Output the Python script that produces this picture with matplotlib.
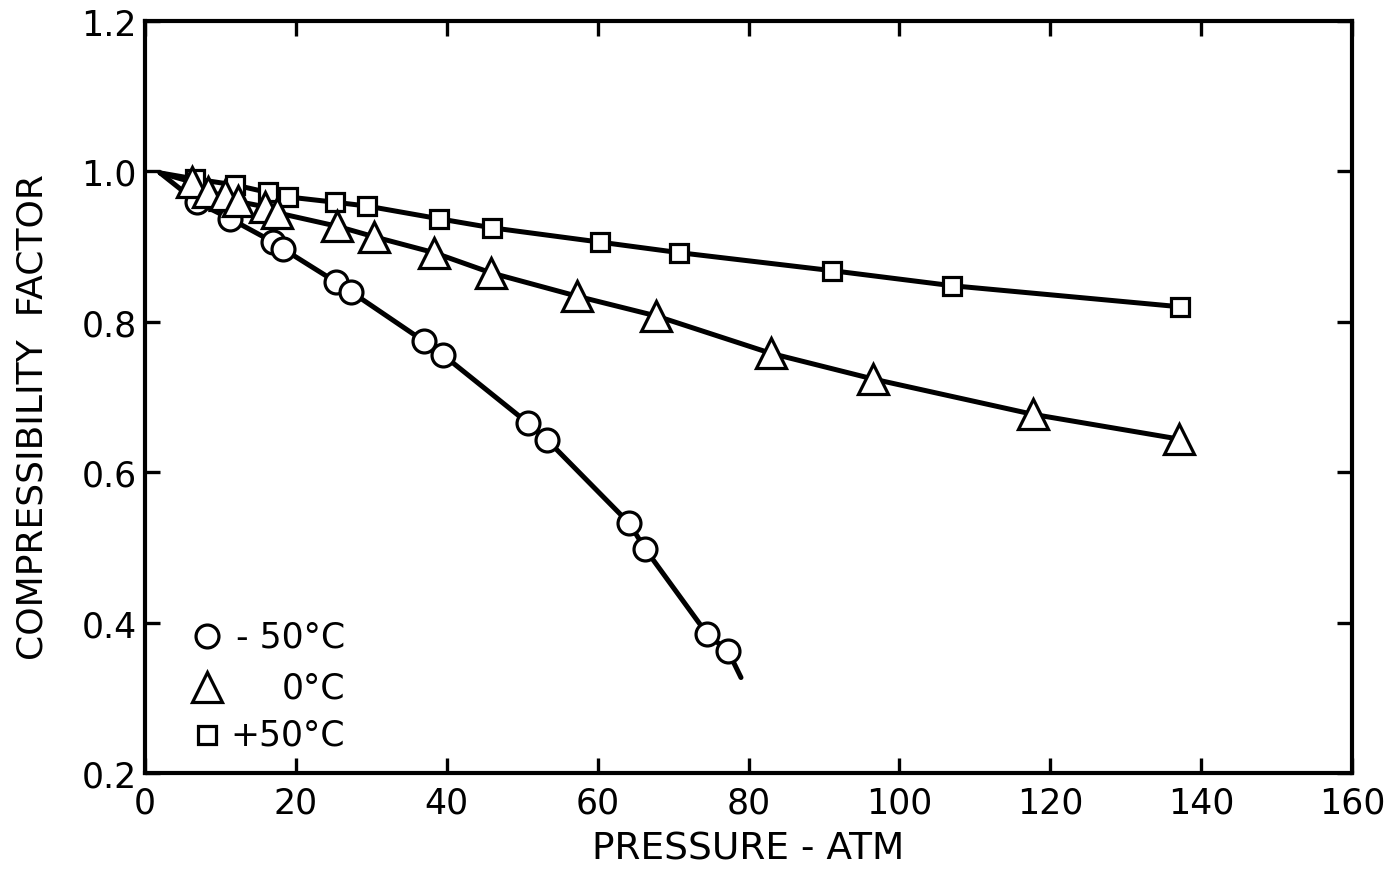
import matplotlib
matplotlib.use('Agg')
import matplotlib.pyplot as plt

# readings, pressure in atm vs compressibility factor
p_minus50 = [6.9, 11.3, 17.0, 18.3, 25.3, 27.3, 37.0, 39.5, 50.8, 53.3, 64.2, 66.3, 74.5, 77.3]
z_minus50 = [0.959, 0.937, 0.906, 0.897, 0.853, 0.840, 0.774, 0.756, 0.665, 0.643, 0.532, 0.498, 0.385, 0.362]

p_zero = [6.2, 8.4, 10.6, 12.3, 15.9, 17.5, 25.5, 30.4, 38.3, 45.9, 57.3, 67.7, 83.0, 96.5, 117.7, 137.1]
z_zero = [0.986, 0.972, 0.968, 0.960, 0.953, 0.945, 0.927, 0.913, 0.892, 0.865, 0.834, 0.808, 0.758, 0.724, 0.677, 0.644]

p_plus50 = [6.6, 11.9, 16.3, 19.0, 25.2, 29.4, 39.0, 46.0, 60.3, 70.8, 91.1, 107.0, 137.2]
z_plus50 = [0.990, 0.982, 0.972, 0.966, 0.959, 0.954, 0.937, 0.925, 0.906, 0.892, 0.868, 0.848, 0.820]

# where the drawn curves begin / end beyond the points
curve_start = (2.0, 0.998)
curve_end_minus50 = (79.0, 0.327)

x_ticks = [0, 20, 40, 60, 80, 100, 120, 140, 160]
y_ticks = [0.2, 0.4, 0.6, 0.8, 1.0, 1.2]
y_ticklabels = ['0.2', '0.4', '0.6', '0.8', '1.0', '1.2']

plt.rcParams['font.family'] = ['DejaVu Sans']

fig = plt.figure(figsize=(13.84, 8.70), dpi=100)
ax = fig.add_axes([0.1048, 0.1103, 0.8721, 0.8644])

lw = 3.6
mew = 2.3

# curves
ax.plot([curve_start[0]] + p_minus50 + [curve_end_minus50[0]],
        [curve_start[1]] + z_minus50 + [curve_end_minus50[1]],
        '-', color='black', lw=lw, solid_capstyle='round', zorder=2)
ax.plot([curve_start[0]] + p_zero, [curve_start[1]] + z_zero,
        '-', color='black', lw=lw, solid_capstyle='round', zorder=2)
ax.plot([curve_start[0]] + p_plus50, [curve_start[1]] + z_plus50,
        '-', color='black', lw=lw, solid_capstyle='round', zorder=2)

# markers
ax.plot(p_plus50, z_plus50, 's', ms=13.5, mfc='white', mec='black', mew=mew, ls='none', zorder=3)
ax.plot(p_minus50, z_minus50, 'o', ms=16.5, mfc='white', mec='black', mew=mew, ls='none', zorder=4)
ax.plot(p_zero, z_zero, '^', ms=21, mfc='white', mec='black', mew=mew, ls='none', zorder=5)

ax.set_xlim(0, 160)
ax.set_ylim(0.2, 1.2)
ax.set_xticks(x_ticks)
ax.set_yticks(y_ticks)
ax.set_yticklabels(y_ticklabels)

for s in ax.spines.values():
    s.set_linewidth(3.0)
ax.tick_params(direction='in', length=11, width=2.4, labelsize=25,
               top=True, right=True, pad=6)
ax.tick_params(axis='x', pad=9)

ax.set_xlabel('PRESSURE - ATM', fontsize=27, labelpad=8)
ax.set_ylabel('COMPRESSIBILITY  FACTOR', fontsize=26)
ax.yaxis.set_label_coords(-0.079, 0.475)

# hand-placed key, text right aligned as in the original
key = [('o', 16.5, '- 50°C', 0.182), ('^', 21, '0°C', 0.114), ('s', 13.5, '+50°C', 0.051)]
for mk, ms, label, yy in key:
    ax.plot([0.051], [yy], mk, ms=ms, mfc='white', mec='black', mew=mew,
            transform=ax.transAxes, zorder=6, clip_on=False)
    ax.text(0.166, yy, label, transform=ax.transAxes, ha='right', va='center', fontsize=25)

fig.savefig('out.png', dpi=100)
